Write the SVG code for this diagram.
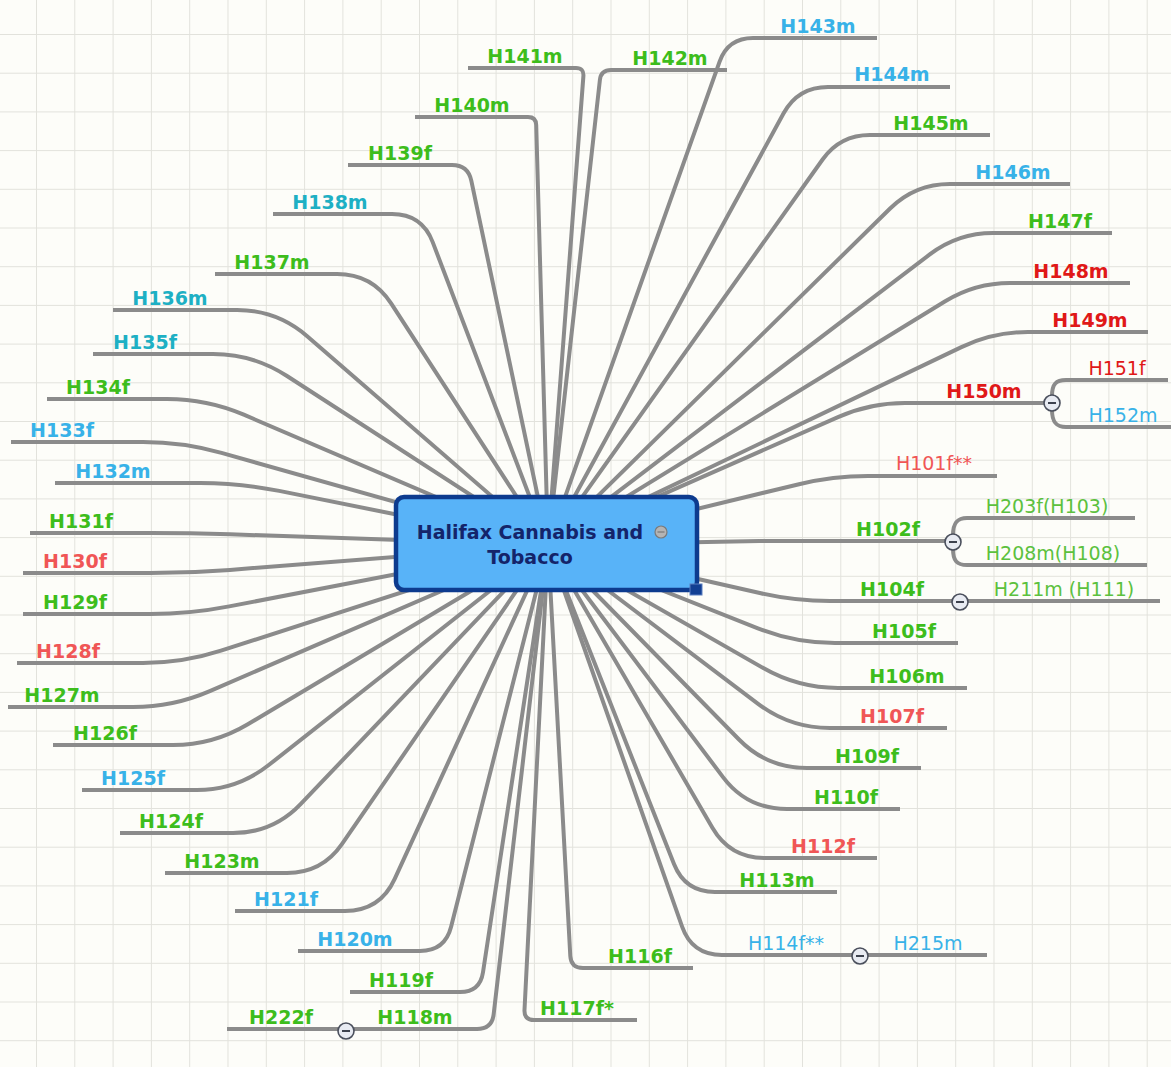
<svg xmlns="http://www.w3.org/2000/svg" width="1171" height="1067" viewBox="0 0 1171 1067">
<style>
.c{fill:none;stroke:#8b8b8b;stroke-width:4;stroke-linejoin:round}
.t{font-family:"DejaVu Sans",Verdana,sans-serif;font-size:19px;font-weight:bold;text-anchor:middle}
.n{font-weight:normal}
.g{fill:#3dbd1c}.lg{fill:#5cc13e}.b{fill:#38b2e8}.tl{fill:#1eb0c4}.rd{fill:#e01818}.lr{fill:#f05656}
.tg circle{fill:#e8ebf2;stroke:#4a4f5c;stroke-width:1.6}
.tg line{stroke:#2a2f3c;stroke-width:1.8}
</style>
<defs>
<pattern id="grid" patternUnits="userSpaceOnUse" x="36" y="34" width="38.3" height="38.7">
<path d="M0.5,0 V38.7 M0,0.5 H38.3" fill="none" stroke="#e2e2dc" stroke-width="1"/>
</pattern>
</defs>
<rect width="1171" height="1067" fill="#fdfdf9"/>
<rect width="1171" height="1067" fill="url(#grid)"/>
<g id="connectors" class="c">
<path d="M548,545 L719.6,61.6 Q728,38 753,38"/>
<path d="M548,545 L599.9,79.9 Q601,70 611,70"/>
<path d="M548,545 L783.6,113.3 Q798,87 828,87"/>
<path d="M548,545 L822.6,159.5 Q840,135 870,135"/>
<path d="M548,545 L890.1,208.5 Q915,184 950,184"/>
<path d="M548,545 L930.1,254.2 Q958,233 993,233"/>
<path d="M548,545 L945.2,301.3 Q975,283 1010,283"/>
<path d="M548,545 L961.4,347.1 Q993,332 1028,332"/>
<path d="M548,545 L838,417.1 Q870,403 905,403"/>
<path d="M548,545 L799,484.2 Q833,476 868,476"/>
<path d="M548,545 L760,541"/>
<path d="M548,545 L760.9,593.3 Q795,601 830,601"/>
<path d="M548,545 L757.9,628.3 Q795,643 835,643"/>
<path d="M548,545 L763.3,668.1 Q798,688 838,688"/>
<path d="M548,545 L758.1,703.8 Q790,728 830,728"/>
<path d="M548,545 L739,739.5 Q767,768 807,768"/>
<path d="M548,545 L723,777.1 Q747,809 787,809"/>
<path d="M548,545 L712.4,827.7 Q730,858 765,858"/>
<path d="M548,545 L674,864.1 Q685,892 715,892"/>
<path d="M548,545 L682.1,926.7 Q692,955 722,955"/>
<path d="M548,545 L570.3,956 Q571,968 583,968"/>
<path d="M548,545 L524.5,1010 Q524,1020 534,1020"/>
<path d="M548,545 L583.4,76 Q584,68 576,68"/>
<path d="M548,545 L536.2,125 Q536,117 528,117"/>
<path d="M548,545 L471.3,180.7 Q468,165 452,165"/>
<path d="M548,545 L432.7,242.1 Q422,214 392,214"/>
<path d="M548,545 L391.1,303.4 Q372,274 337,274"/>
<path d="M548,545 L307.2,336.2 Q277,310 237,310"/>
<path d="M548,545 L286.6,375.8 Q253,354 213,354"/>
<path d="M548,545 L243.8,414.7 Q207,399 167,399"/>
<path d="M548,545 L221.5,452.9 Q183,442 143,442"/>
<path d="M548,545 L279.2,490.9 Q240,483 200,483"/>
<path d="M548,545 L230,534.3 Q190,533 150,533"/>
<path d="M548,545 L229.9,569.9 Q190,573 150,573"/>
<path d="M548,545 L229.2,606.4 Q190,614 150,614"/>
<path d="M548,545 L221,650.7 Q183,663 143,663"/>
<path d="M548,545 L209.8,691.1 Q173,707 133,707"/>
<path d="M548,545 L247.4,724.5 Q213,745 173,745"/>
<path d="M548,545 L268.4,765.3 Q237,790 197,790"/>
<path d="M548,545 L300.6,804.1 Q273,833 233,833"/>
<path d="M548,545 L341.9,844.2 Q322,873 287,873"/>
<path d="M548,545 L394.6,879.2 Q380,911 345,911"/>
<path d="M548,545 L451.1,926.8 Q445,951 420,951"/>
<path d="M548,545 L483,972.2 Q480,992 460,992"/>
<path d="M548,545 L493.7,1014.1 Q492,1029 477,1029"/>
<path d="M1052,396 C1052,384 1056,380 1066,380"/>
<path d="M1052,410 C1052,422 1056,427 1066,427"/>
<path d="M953,535 C953,523 957,518 967,518"/>
<path d="M953,549 C953,561 957,565 967,565"/>
</g>
<g id="center">
<rect x="396" y="497" width="301" height="93" rx="8" fill="#58b3f8" stroke="#0d3b8e" stroke-width="4.5"/>
<rect x="690" y="584" width="12" height="11" fill="#123f93" stroke="#5a7fc0" stroke-width="1"/>
<text class="t" x="530" y="539" fill="#14246a">Halifax Cannabis and</text>
<text class="t" x="530" y="564" fill="#14246a">Tobacco</text>
<circle cx="661" cy="532" r="6" fill="#b4b4b4" stroke="#7a7a7a" stroke-width="1.2"/>
<line x1="657.5" y1="532" x2="664.5" y2="532" stroke="#777" stroke-width="1.2"/>
</g>
<g id="n143"><path class="c" d="M753,38 H877"/><text class="t b" x="818" y="33">H143m</text></g>
<g id="n142"><path class="c" d="M611,70 H727"/><text class="t g" x="670" y="65">H142m</text></g>
<g id="n144"><path class="c" d="M828,87 H950"/><text class="t b" x="892" y="81">H144m</text></g>
<g id="n145"><path class="c" d="M870,135 H990"/><text class="t g" x="931" y="130">H145m</text></g>
<g id="n146"><path class="c" d="M950,184 H1070"/><text class="t b" x="1013" y="179">H146m</text></g>
<g id="n147"><path class="c" d="M993,233 H1112"/><text class="t g" x="1060" y="228">H147f</text></g>
<g id="n148"><path class="c" d="M1010,283 H1130"/><text class="t rd" x="1071" y="278">H148m</text></g>
<g id="n149"><path class="c" d="M1028,332 H1148"/><text class="t rd" x="1090" y="327">H149m</text></g>
<g id="n150"><path class="c" d="M905,403 H1044"/><text class="t rd" x="984" y="398">H150m</text></g>
<g id="n151"><path class="c" d="M1066,380 H1168"/><text class="t rd n" x="1117" y="375">H151f</text></g>
<g id="n152"><path class="c" d="M1066,427 H1171"/><text class="t b n" x="1123" y="422">H152m</text></g>
<g id="n101"><path class="c" d="M868,476 H997"/><text class="t lr n" x="934" y="470">H101f**</text></g>
<g id="n102"><path class="c" d="M760,541 H945"/><text class="t g" x="888" y="536">H102f</text></g>
<g id="n203"><path class="c" d="M967,518 H1135"/><text class="t lg n" x="1047" y="513">H203f(H103)</text></g>
<g id="n208"><path class="c" d="M967,565 H1147"/><text class="t lg n" x="1053" y="560">H208m(H108)</text></g>
<g id="n104"><path class="c" d="M830,601 H952"/><text class="t g" x="892" y="596">H104f</text></g>
<g id="n211"><path class="c" d="M968,601 H1160"/><text class="t lg n" x="1064" y="596">H211m (H111)</text></g>
<g id="n105"><path class="c" d="M835,643 H958"/><text class="t g" x="904" y="638">H105f</text></g>
<g id="n106"><path class="c" d="M838,688 H967"/><text class="t g" x="907" y="683">H106m</text></g>
<g id="n107"><path class="c" d="M830,728 H947"/><text class="t lr" x="892" y="723">H107f</text></g>
<g id="n109"><path class="c" d="M807,768 H921"/><text class="t g" x="867" y="763">H109f</text></g>
<g id="n110"><path class="c" d="M787,809 H900"/><text class="t g" x="846" y="804">H110f</text></g>
<g id="n112"><path class="c" d="M765,858 H877"/><text class="t lr" x="823" y="853">H112f</text></g>
<g id="n113"><path class="c" d="M715,892 H837"/><text class="t g" x="777" y="887">H113m</text></g>
<g id="n114"><path class="c" d="M722,955 H852"/><text class="t b n" x="786" y="950">H114f**</text></g>
<g id="n215"><path class="c" d="M868,955 H987"/><text class="t b n" x="928" y="950">H215m</text></g>
<g id="n116"><path class="c" d="M583,968 H693"/><text class="t g" x="640" y="963">H116f</text></g>
<g id="n117"><path class="c" d="M534,1020 H637"/><text class="t g" x="577" y="1015">H117f*</text></g>
<g id="n118"><path class="c" d="M477,1029 H354"/><text class="t g" x="415" y="1024">H118m</text></g>
<g id="n222"><path class="c" d="M338,1029 H227"/><text class="t g" x="281" y="1024">H222f</text></g>
<g id="n119"><path class="c" d="M460,992 H350"/><text class="t g" x="401" y="987">H119f</text></g>
<g id="n120"><path class="c" d="M420,951 H298"/><text class="t b" x="355" y="946">H120m</text></g>
<g id="n121"><path class="c" d="M345,911 H235"/><text class="t b" x="286" y="906">H121f</text></g>
<g id="n123"><path class="c" d="M287,873 H165"/><text class="t g" x="222" y="868">H123m</text></g>
<g id="n124"><path class="c" d="M233,833 H120"/><text class="t g" x="171" y="828">H124f</text></g>
<g id="n125"><path class="c" d="M197,790 H82"/><text class="t b" x="133" y="785">H125f</text></g>
<g id="n126"><path class="c" d="M173,745 H53"/><text class="t g" x="105" y="740">H126f</text></g>
<g id="n127"><path class="c" d="M133,707 H8"/><text class="t g" x="62" y="702">H127m</text></g>
<g id="n128"><path class="c" d="M143,663 H17"/><text class="t lr" x="68" y="658">H128f</text></g>
<g id="n129"><path class="c" d="M150,614 H23"/><text class="t g" x="75" y="609">H129f</text></g>
<g id="n130"><path class="c" d="M150,573 H23"/><text class="t lr" x="75" y="568">H130f</text></g>
<g id="n131"><path class="c" d="M150,533 H30"/><text class="t g" x="81" y="528">H131f</text></g>
<g id="n132"><path class="c" d="M200,483 H55"/><text class="t b" x="113" y="478">H132m</text></g>
<g id="n133"><path class="c" d="M143,442 H11"/><text class="t b" x="62" y="437">H133f</text></g>
<g id="n134"><path class="c" d="M167,399 H47"/><text class="t g" x="98" y="394">H134f</text></g>
<g id="n135"><path class="c" d="M213,354 H93"/><text class="t tl" x="145" y="349">H135f</text></g>
<g id="n136"><path class="c" d="M237,310 H113"/><text class="t tl" x="170" y="305">H136m</text></g>
<g id="n137"><path class="c" d="M337,274 H215"/><text class="t g" x="272" y="269">H137m</text></g>
<g id="n138"><path class="c" d="M392,214 H273"/><text class="t tl" x="330" y="209">H138m</text></g>
<g id="n139"><path class="c" d="M452,165 H348"/><text class="t g" x="400" y="160">H139f</text></g>
<g id="n140"><path class="c" d="M528,117 H415"/><text class="t g" x="472" y="112">H140m</text></g>
<g id="n141"><path class="c" d="M576,68 H468"/><text class="t g" x="525" y="63">H141m</text></g>
<g id="toggles" class="tg">
<circle cx="1052" cy="403" r="8"/><line x1="1048" y1="403" x2="1056" y2="403"/>
<circle cx="953" cy="542" r="8"/><line x1="949" y1="542" x2="957" y2="542"/>
<circle cx="960" cy="602" r="8"/><line x1="956" y1="602" x2="964" y2="602"/>
<circle cx="860" cy="956" r="8"/><line x1="856" y1="956" x2="864" y2="956"/>
<circle cx="346" cy="1031" r="8"/><line x1="342" y1="1031" x2="350" y2="1031"/>
</g>
</svg>
